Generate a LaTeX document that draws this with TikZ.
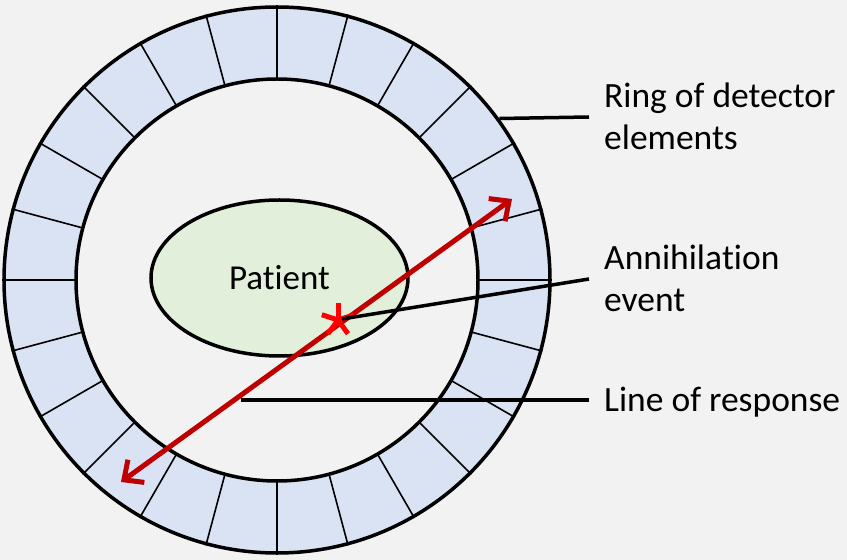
\documentclass[tikz,border=0pt]{standalone}
\usepackage{fontspec}
\setmainfont{Carlito}[RawFeature={-liga;-clig;-dlig;-calt}]
\usepackage{xcolor}
\usetikzlibrary{shapes.geometric, arrows.meta, positioning, calc}

\definecolor{bggray}{HTML}{F2F2F2}
\definecolor{ringblue}{HTML}{DAE3F3}
\definecolor{bodygreen}{HTML}{E2EFDA}
\definecolor{lorred}{HTML}{C00000}

\begin{document}
\begin{tikzpicture}[
    x=1pt, y=1pt,
    ringline/.style={draw, line width=3.5pt},
    cell/.style={draw, line width=1.6pt},
    label/.style={anchor=base west, align=left, inner sep=0pt, font=\fontsize{35.5}{42}\selectfont},
    leader/.style={draw, line width=3.5pt},
    lor/.style={{Straight Barb[length=15pt,width=28pt]}-{Straight Barb[length=15pt,width=28pt]}, line width=5pt, lorred},
    starline/.style={draw, red, line width=5pt}
]

\useasboundingbox[fill=bggray] (0,0) rectangle (847,560);

% Detector ring
\node[circle, ringline, fill=ringblue, minimum size=546pt, inner sep=0pt] (ring) at (277,280) {};
\node[circle, minimum size=402pt, inner sep=0pt] (bore) at (277,280) {};
\foreach \a in {0,15,...,345}
    \draw[cell] (bore.\a) -- (ring.\a);
\node[circle, ringline, fill=bggray, minimum size=402pt, inner sep=0pt] at (277,280) {};

% Patient
\node[ellipse, ringline, fill=bodygreen, minimum width=257pt, minimum height=156pt,
      inner sep=0pt, font=\fontsize{35}{42}\selectfont] (patient) at (279.5,282) {Pat\kern0pt ient};

% Line of response
\coordinate (lorA) at (121,78);
\coordinate (lorB) at (512,361);
\draw[lor] (lorA) -- (lorB);

% Annihilation event
\coordinate (evt) at (338,240);
\foreach \a in {18,90,162,234,306}
    \draw[starline] (evt) -- ++(\a:17);

% Labels
\node[label] (ringlbl) at (604,410) {Ring of detector\\elements};
\node[label] (annlbl) at (604,248) {Annihila\kern0pt tion\\event};
\node[label] (lorlbl) at (604,148) {Line of response};

% Leaders
\coordinate (ringend) at (589,443);
\coordinate (annend) at (589,281);
\coordinate (lorend) at (589,160);
\coordinate (lorfoot) at (241,160);
\draw[leader] (ring.36.7) -- (ringend);
\draw[leader] ($(evt)+(4,1)$) -- (annend);
\draw[leader] (lorfoot) -- (lorend);

\end{tikzpicture}
\end{document}
